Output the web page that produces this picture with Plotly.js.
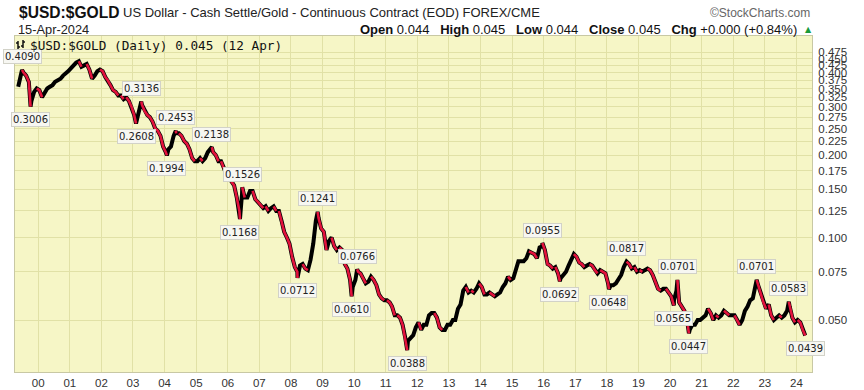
<!DOCTYPE html>
<html>
<head>
<meta charset="utf-8">
<script src="https://cdn.plot.ly/plotly-3.0.1.min.js"></script>
<style>
  html, body { margin: 0; padding: 0; background: #ffffff; }
  #chart { width: 864px; height: 390px; }
</style>
</head>
<body>
<div id="chart"></div>
<script>
// ---------------- DATA ----------------
// Approximate mid-month values of $USD:$GOLD, year by year (1999 starts in May, 2024 ends in March)
const firstMonth1999 = 5;
const c1999 = [0.355, 0.385, 0.400, 0.390, 0.370, 0.315, 0.340, 0.350];
const c2000 = [0.345, 0.325, 0.340, 0.350, 0.355, 0.360, 0.370, 0.375, 0.380, 0.390, 0.400, 0.405];
const c2001 = [0.415, 0.425, 0.435, 0.440, 0.420, 0.425, 0.430, 0.410, 0.380, 0.390, 0.405, 0.410];
const c2002 = [0.405, 0.385, 0.375, 0.360, 0.345, 0.340, 0.330, 0.330, 0.320, 0.325, 0.315, 0.300];
const c2003 = [0.280, 0.270, 0.295, 0.305, 0.290, 0.280, 0.275, 0.265, 0.250, 0.245, 0.235, 0.215];
const c2004 = [0.205, 0.210, 0.215, 0.235, 0.240, 0.240, 0.235, 0.225, 0.220, 0.210, 0.195, 0.190];
const c2005 = [0.190, 0.195, 0.190, 0.195, 0.205, 0.210, 0.205, 0.200, 0.190, 0.190, 0.180, 0.170];
const c2006 = [0.165, 0.160, 0.155, 0.140, 0.125, 0.145, 0.140, 0.140, 0.148, 0.148, 0.138, 0.135];
const c2007 = [0.132, 0.128, 0.130, 0.125, 0.128, 0.130, 0.125, 0.125, 0.115, 0.105, 0.100, 0.095];
const c2008 = [0.085, 0.078, 0.075, 0.079, 0.080, 0.077, 0.076, 0.083, 0.095, 0.115, 0.118, 0.108];
const c2009 = [0.105, 0.090, 0.097, 0.100, 0.093, 0.090, 0.092, 0.090, 0.080, 0.077, 0.070, 0.066];
const c2010 = [0.070, 0.075, 0.074, 0.071, 0.068, 0.069, 0.072, 0.070, 0.067, 0.062, 0.060, 0.059];
const c2011 = [0.059, 0.058, 0.056, 0.052, 0.052, 0.051, 0.048, 0.043, 0.042, 0.043, 0.044, 0.047];
const c2012 = [0.049, 0.046, 0.048, 0.048, 0.052, 0.053, 0.053, 0.051, 0.047, 0.046, 0.046, 0.048];
const c2013 = [0.048, 0.050, 0.050, 0.055, 0.057, 0.064, 0.066, 0.063, 0.064, 0.063, 0.065, 0.068];
const c2014 = [0.066, 0.062, 0.062, 0.063, 0.062, 0.061, 0.062, 0.063, 0.066, 0.068, 0.072, 0.070];
const c2015 = [0.071, 0.078, 0.082, 0.082, 0.082, 0.084, 0.089, 0.088, 0.087, 0.084, 0.092, 0.093];
const c2016 = [0.090, 0.080, 0.079, 0.077, 0.078, 0.074, 0.071, 0.073, 0.075, 0.079, 0.083, 0.087];
const c2017 = [0.085, 0.081, 0.080, 0.078, 0.079, 0.080, 0.079, 0.076, 0.074, 0.076, 0.075, 0.074];
const c2018 = [0.068, 0.067, 0.067, 0.068, 0.071, 0.073, 0.078, 0.081, 0.080, 0.077, 0.078, 0.075];
const c2019 = [0.076, 0.075, 0.076, 0.077, 0.076, 0.073, 0.069, 0.065, 0.064, 0.065, 0.065, 0.063];
const c2020 = [0.061, 0.059, 0.064, 0.058, 0.056, 0.054, 0.050, 0.046, 0.048, 0.048, 0.050, 0.050];
const c2021 = [0.051, 0.052, 0.055, 0.053, 0.050, 0.052, 0.051, 0.052, 0.054, 0.053, 0.052, 0.052];
const c2022 = [0.052, 0.050, 0.048, 0.050, 0.054, 0.056, 0.059, 0.060, 0.066, 0.067, 0.063, 0.058];
const c2023 = [0.055, 0.057, 0.052, 0.050, 0.051, 0.052, 0.051, 0.052, 0.054, 0.056, 0.051, 0.049];
const c2024 = [0.050, 0.049, 0.046];

// Labelled swing highs / lows
const swingDates  = ['1999-06-28','1999-10-05','2003-02-05','2003-04-07','2004-01-28','2004-05-10',
                     '2005-07-01','2006-05-22','2006-06-17','2008-03-17','2008-11-05','2009-12-03',
                     '2010-02-05','2011-09-06','2015-12-17','2016-07-06','2018-01-25','2018-08-16',
                     '2020-02-14','2020-03-26','2020-08-06','2022-09-28','2023-10-05','2024-04-12'];
const swingValues = [0.4090, 0.3006, 0.2608, 0.3136, 0.1994, 0.2453,
                     0.2138, 0.1168, 0.1526, 0.0712, 0.1241, 0.0610,
                     0.0766, 0.0388, 0.0955, 0.0692, 0.0648, 0.0817,
                     0.0565, 0.0701, 0.0447, 0.0701, 0.0583, 0.0439];
const swingSide   = ['up','down','down','up','down','up',
                     'up','down','up','down','up','down',
                     'up','down','up','down','down','up',
                     'down','up','down','up','up','down'];

const yTickValues = [0.475,0.450,0.425,0.400,0.375,0.350,0.325,0.300,0.275,0.250,0.225,0.200,0.175,0.150,0.125,0.100,0.075,0.050];
const yTickText   = ['0.475','0.450','0.425','0.400','0.375','0.350','0.325','0.300','0.275','0.250','0.225','0.200','0.175','0.150','0.125','0.100','0.075','0.050'];
const xTickYears  = ['00','01','02','03','04','05','06','07','08','09','10','11','12','13','14','15','16','17','18','19','20','21','22','23','24'];

// ---------------- BUILD SERIES ----------------
const yearly = {1999:c1999,2000:c2000,2001:c2001,2002:c2002,2003:c2003,2004:c2004,2005:c2005,2006:c2006,
  2007:c2007,2008:c2008,2009:c2009,2010:c2010,2011:c2011,2012:c2012,2013:c2013,2014:c2014,2015:c2015,
  2016:c2016,2017:c2017,2018:c2018,2019:c2019,2020:c2020,2021:c2021,2022:c2022,2023:c2023,2024:c2024};
let pts = [];
Object.keys(yearly).forEach(function (yr) {
  const arr = yearly[yr];
  const m0 = (+yr === 1999) ? firstMonth1999 : 1;
  arr.forEach(function (v, i) {
    const m = m0 + i;
    pts.push({d: yr + '-' + (m < 10 ? '0' + m : m) + '-15', v: v});
  });
});
swingDates.forEach(function (d, i) { pts.push({d: d, v: swingValues[i]}); });
pts.sort(function (a, b) { return a.d < b.d ? -1 : (a.d > b.d ? 1 : 0); });

const X = pts.map(function (p) { return p.d; });
const C = pts.map(function (p) { return p.v; });

// falling stretches, drawn again in red on top of the black line
const RX = [], RY = [];
for (let i = 1; i < C.length; i++) {
  if (C[i] < C[i - 1]) {
    if (RX.length === 0 || RX[RX.length - 1] !== X[i - 1]) {
      if (RX.length) { RX.push(null); RY.push(null); }
      RX.push(X[i - 1]); RY.push(C[i - 1]);
    }
    RX.push(X[i]); RY.push(C[i]);
  }
}

const blackLine = {
  type: 'scatter', mode: 'lines', x: X, y: C,
  line: {color: '#000000', width: 4}, hoverinfo: 'skip', showlegend: false
};
const redLine = {
  type: 'scatter', mode: 'lines', x: RX, y: RY, connectgaps: false,
  line: {color: '#e3123c', width: 2.6}, hoverinfo: 'skip', showlegend: false
};

// ---------------- LAYOUT ----------------
const L0 = 15, R0 = 812, T0 = 36, B0 = 372;
const PW = R0 - L0, PH = B0 - T0;
function px(x) { return (x - L0) / PW; }
function py(y) { return (B0 - y) / PH; }

const annotations = [];
swingDates.forEach(function (d, i) {
  const up = swingSide[i] === 'up';
  annotations.push({
    x: d, y: Math.log10(swingValues[i]), xref: 'x', yref: 'y',
    text: swingValues[i].toFixed(4), showarrow: false,
    yshift: up ? 13 : -13,
    font: {family: 'DejaVu Sans, Verdana, sans-serif', size: 10, color: '#222'},
    bgcolor: '#f7f7f2', bordercolor: '#d2d2c8', borderwidth: 1, borderpad: 1
  });
});

const hdrFont = 'Liberation Sans, Arial, sans-serif';
annotations.push({xref:'paper', yref:'paper', x: px(17), y: py(12), xanchor:'left', yanchor:'middle', showarrow:false,
  text:'<b>$USD:$GOLD</b>', font:{family: hdrFont, size:15.6, color:'#111'}});
annotations.push({xref:'paper', yref:'paper', x: px(121), y: py(12.5), xanchor:'left', yanchor:'middle', showarrow:false,
  text:'US Dollar - Cash Settle/Gold - Continuous Contract (EOD) FOREX/CME', font:{family: hdrFont, size:13, color:'#222'}});
annotations.push({xref:'paper', yref:'paper', x: px(812), y: py(13), xanchor:'right', yanchor:'middle', showarrow:false,
  text:'©StockCharts.com', font:{family: hdrFont, size:12, color:'#666'}});
annotations.push({xref:'paper', yref:'paper', x: px(16), y: py(29), xanchor:'left', yanchor:'middle', showarrow:false,
  text:'15-Apr-2024', font:{family: hdrFont, size:12.8, color:'#222'}});
annotations.push({xref:'paper', yref:'paper', x: px(799), y: py(29), xanchor:'right', yanchor:'middle', showarrow:false,
  text:'<b>Open</b> 0.044&nbsp;&nbsp;&nbsp;<b>High</b> 0.045&nbsp;&nbsp;&nbsp;<b>Low</b> 0.044&nbsp;&nbsp;&nbsp;<b>Close</b> 0.045&nbsp;&nbsp;&nbsp;<b>Chg</b> +0.000 (+0.84%)',
  font:{family: hdrFont, size:13, color:'#111'}});
annotations.push({xref:'paper', yref:'paper', x: px(808), y: py(29), xanchor:'center', yanchor:'middle', showarrow:false,
  text:'▲', font:{family:'DejaVu Sans, sans-serif', size:8, color:'#1a9a3a'}});
annotations.push({xref:'paper', yref:'paper', x: px(28), y: py(45), xanchor:'left', yanchor:'middle', showarrow:false,
  text:'$USD:$GOLD (Daily) 0.045 (12 Apr)', font:{family:'DejaVu Sans Mono, monospace', size:12.7, color:'#111'}});

// little OHLC icon in the legend row
const shapes = [
  {type:'line', xref:'paper', yref:'paper', x0:px(18), x1:px(18), y0:py(41), y1:py(49), line:{color:'#111', width:1.5}},
  {type:'line', xref:'paper', yref:'paper', x0:px(16), x1:px(18), y0:py(43), y1:py(43), line:{color:'#111', width:1.5}},
  {type:'line', xref:'paper', yref:'paper', x0:px(18), x1:px(20), y0:py(47), y1:py(47), line:{color:'#111', width:1.5}},
  {type:'line', xref:'paper', yref:'paper', x0:px(23), x1:px(23), y0:py(40), y1:py(48), line:{color:'#111', width:1.5}},
  {type:'line', xref:'paper', yref:'paper', x0:px(21), x1:px(23), y0:py(46), y1:py(46), line:{color:'#111', width:1.5}},
  {type:'line', xref:'paper', yref:'paper', x0:px(23), x1:px(25), y0:py(42), y1:py(42), line:{color:'#111', width:1.5}}
];

const xTickVals = xTickYears.map(function (s) { return '20' + s + '-01-01'; });

const layout = {
  width: 864, height: 390,
  margin: {l: L0, r: 864 - R0, t: T0, b: 390 - B0, pad: 0},
  paper_bgcolor: '#ffffff', plot_bgcolor: '#f6f6c6',
  font: {family: hdrFont, size: 11, color: '#333'},
  showlegend: false,
  xaxis: {
    type: 'date', range: ['1999-04-08', '2024-06-29'],
    tickvals: xTickVals, ticktext: xTickYears,
    showgrid: true, gridcolor: '#e1e1a6', gridwidth: 1,
    showline: true, linecolor: '#c8c8a4', mirror: true,
    ticks: '', tickfont: {size: 11.5, color: '#333'},
    fixedrange: true, zeroline: false
  },
  yaxis: {
    type: 'log', side: 'right',
    range: [Math.log10(0.0323), Math.log10(0.544)],
    tickvals: yTickValues, ticktext: yTickText,
    showgrid: true, gridcolor: '#e1e1a6', gridwidth: 1,
    showline: true, linecolor: '#c8c8a4', mirror: true,
    ticks: '', ticklabelstandoff: 3, tickfont: {size: 11.5, color: '#333'},
    fixedrange: true, zeroline: false
  },
  annotations: annotations,
  shapes: shapes
};

Plotly.newPlot('chart', [blackLine, redLine], layout, {staticPlot: true, displayModeBar: false});
</script>
</body>
</html>
